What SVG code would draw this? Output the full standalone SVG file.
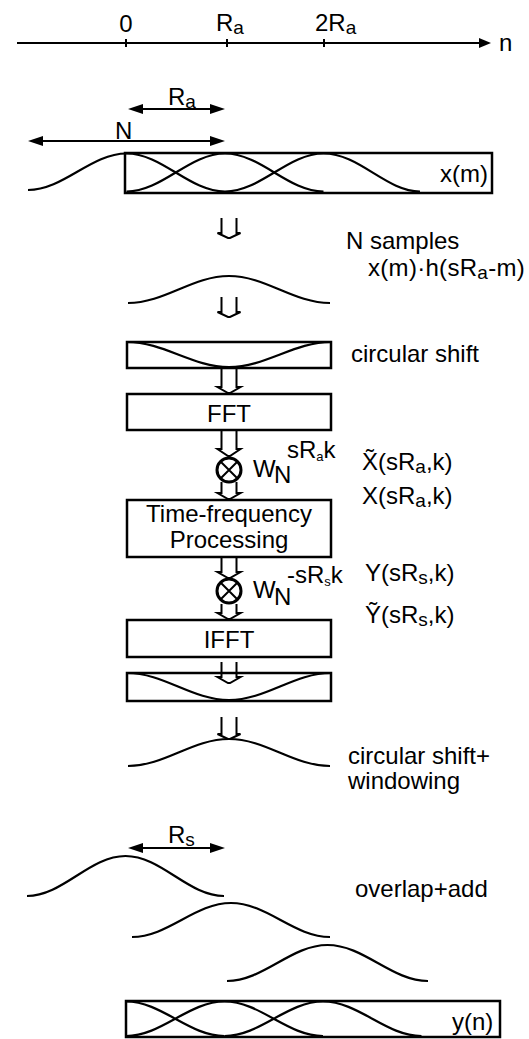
<svg xmlns="http://www.w3.org/2000/svg" width="529" height="1039" viewBox="0 0 529 1039">
<style>
.t{font-family:"Liberation Sans",Arial,sans-serif;font-size:24px;fill:#000}
.c{text-anchor:middle}
.ln{stroke:#000;stroke-width:2;fill:none}
.box{stroke:#000;stroke-width:2.5;fill:#fff}
.cv{stroke:#000;stroke-width:2.2;fill:none}
.ha{stroke:#000;stroke-width:2;fill:none;stroke-linejoin:miter}
.dim{stroke:#000;stroke-width:2;fill:none;marker-start:url(#ah);marker-end:url(#ah)}
.mul{stroke:#000;stroke-width:3;fill:#fff}
</style>
<defs>
<marker id="ah" viewBox="0 0 15 10" refX="12" refY="5" markerWidth="15" markerHeight="10" markerUnits="userSpaceOnUse" orient="auto-start-reverse">
<path d="M0,0 L15,5 L0,10 z" fill="#000"/>
</marker>
<marker id="ahn" viewBox="0 0 12 10" refX="9" refY="5" markerWidth="12" markerHeight="10" markerUnits="userSpaceOnUse" orient="auto">
<path d="M0,0 L12,5 L0,10 z" fill="#000"/>
</marker>
</defs>

<g id="axis">
<line x1="17" y1="43" x2="488" y2="43" class="ln" marker-end="url(#ahn)"/>
<line x1="126" y1="39" x2="126" y2="47" class="ln"/>
<line x1="227" y1="39" x2="227" y2="47" class="ln"/>
<line x1="324" y1="39" x2="324" y2="47" class="ln"/>
<text x="126" y="32" class="t c">0</text>
<text x="216" y="31" class="t">R<tspan font-size="19" dy="3">a</tspan></text>
<text x="315" y="31" class="t">2R<tspan font-size="19" dy="3">a</tspan></text>
<text x="499" y="51" class="t">n</text>
</g>

<g id="dim-Ra">
<line x1="131" y1="109" x2="222" y2="109" class="dim"/>
<text x="168" y="105" class="t">R<tspan font-size="19" dy="3">a</tspan></text>
</g>
<g id="dim-N">
<line x1="31" y1="141" x2="222" y2="141" class="dim"/>
<text x="115" y="139" class="t">N</text>
</g>

<g id="node-xm">
<rect x="125" y="153" width="367" height="40" class="box"/>
<path class="cv" d="M28,190 C63.8,190 90.7,153.5 126.5,153.5 C162.3,153.5 189.2,191.5 225,191.5"/>
<path class="cv" d="M126.5,191.5 C162.3,191.5 189.2,153.5 225,153.5 C260.8,153.5 287.7,191.5 323.5,191.5"/>
<path class="cv" d="M225,191.5 C260.8,191.5 287.7,153.5 323.5,153.5 C359.3,153.5 386.2,191.5 420,191.5"/>
<text x="440" y="182" class="t">x(m)</text>
</g>

<g id="label-nsamples">
<text x="346" y="249" class="t">N samples</text>
</g>

<g id="node-window">
<path class="cv" d="M128,303 C164.7,303 192.3,276 229,276 C265.7,276 293.3,303 330,303"/>
<text x="368" y="276" class="t" letter-spacing="0.3">x(m)·h(sR<tspan font-size="19" dy="3">a</tspan><tspan dy="-3">-m)</tspan></text>
</g>

<g id="node-circshift">
<rect x="127" y="342" width="204" height="26" class="box"/>
<path class="cv" d="M127,342 C164.1,342 191.9,367 229,367 C266.1,367 293.9,342 331,342"/>
<text x="351" y="362" class="t">circular shift</text>
</g>

<g id="node-fft">
<rect x="127" y="394" width="204" height="36" class="box"/>
<text x="229" y="422" class="t c">FFT</text>
</g>

<g id="node-mult1">
<circle cx="229" cy="470" r="12" class="mul"/>
<path class="ln" stroke-width="2.5" d="M220.5,461.5 L237.5,478.5 M237.5,461.5 L220.5,478.5"/>
<text x="253" y="477" class="t" font-size="21">W</text>
<text x="274" y="483" class="t" font-size="17">N</text>
<text x="287" y="458" class="t" font-size="16">sR<tspan font-size="13" dy="3">a</tspan><tspan dy="-3">k</tspan></text>
<text x="362" y="470" class="t">X̃(sR<tspan font-size="19" dy="3">a</tspan><tspan dy="-3">,k)</tspan></text>
<text x="362" y="504" class="t">X(sR<tspan font-size="19" dy="3">a</tspan><tspan dy="-3">,k)</tspan></text>
</g>

<g id="node-tf">
<rect x="127" y="500" width="204" height="57" class="box"/>
<text x="229" y="522" class="t c">Time-frequency</text>
<text x="229" y="548" class="t c">Processing</text>
</g>

<g id="node-mult2">
<circle cx="229" cy="591" r="12" class="mul"/>
<path class="ln" stroke-width="2.5" d="M220.5,582.5 L237.5,599.5 M237.5,582.5 L220.5,599.5"/>
<text x="253" y="598" class="t" font-size="21">W</text>
<text x="274" y="605" class="t" font-size="17">N</text>
<text x="287" y="583" class="t" font-size="16">-sR<tspan font-size="13" dy="3">s</tspan><tspan dy="-3">k</tspan></text>
<text x="365" y="581" class="t">Y(sR<tspan font-size="19" dy="3">s</tspan><tspan dy="-3">,k)</tspan></text>
<text x="365" y="623" class="t">Ỹ(sR<tspan font-size="19" dy="3">s</tspan><tspan dy="-3">,k)</tspan></text>
</g>

<g id="node-ifft">
<rect x="127" y="620" width="204" height="37" class="box"/>
<text x="229" y="648" class="t c">IFFT</text>
</g>

<g id="node-circshift2">
<rect x="127" y="673" width="204" height="28" class="box"/>
<path class="cv" d="M127,673 C164.1,673 191.9,700 229,700 C266.1,700 293.9,673 331,673"/>
</g>

<g id="node-window2">
<path class="cv" d="M128,766 C164.7,766 192.3,739 229,739 C265.7,739 293.3,766 330,766"/>
<text x="348" y="764" class="t">circular shift+</text>
<text x="348" y="789" class="t">windowing</text>
</g>

<g id="node-overlap">
<line x1="131" y1="848" x2="222" y2="848" class="dim"/>
<text x="168" y="843" class="t">R<tspan font-size="19" dy="3">s</tspan></text>
<path class="cv" d="M27,896 C62.8,896 89.7,856 125.5,856 C161.3,856 188.2,896 224,896"/>
<path class="cv" d="M132,937 C168,937 195,903 231,903 C267,903 294,937 330,937"/>
<path class="cv" d="M227,981 C263.5,981 291,945 327.5,945 C364,945 391.5,981 428,981"/>
<text x="355" y="897" class="t">overlap+add</text>
</g>

<g id="node-yn">
<rect x="126" y="1001" width="374" height="36" class="box"/>
<path class="cv" d="M126,1001.5 C161.8,1001.5 188.7,1036 224.5,1036"/>
<path class="cv" d="M126,1036 C161.8,1036 188.7,1001.5 224.5,1001.5 C260.3,1001.5 287.2,1036 323,1036"/>
<path class="cv" d="M224.5,1036 C260.3,1036 287.2,1001.5 323,1001.5 C358.8,1001.5 385.7,1036 421.5,1036"/>
<text x="452" y="1030" class="t">y(n)</text>
</g>

<g id="connectors">
<path class="ha" d="M221.5,218 V233 H217.5 L228,238 H230 L240.5,233 H236.5 V218"/>
<path class="ha" d="M221.5,297 V312 H217.5 L228,317 H230 L240.5,312 H236.5 V297"/>
<path class="ha" d="M221.5,369 V387 H217.5 L228,393 H230 L240.5,387 H236.5 V369"/>
<path class="ha" d="M221.5,431 V449 H217.5 L228,456 H230 L240.5,449 H236.5 V431"/>
<path class="ha" d="M221.5,482 V493 H217.5 L228,499 H230 L240.5,493 H236.5 V482"/>
<path class="ha" d="M221.5,558 V572 H217.5 L228,578 H230 L240.5,572 H236.5 V558"/>
<path class="ha" d="M221.5,604 V613 H217.5 L228,619 H230 L240.5,613 H236.5 V604"/>
<path class="ha" d="M221.5,662 V677 H217.5 L228,683 H230 L240.5,677 H236.5 V662"/>
<path class="ha" d="M221.5,717 V734 H217.5 L228,739 H230 L240.5,734 H236.5 V717"/>
</g>
</svg>
